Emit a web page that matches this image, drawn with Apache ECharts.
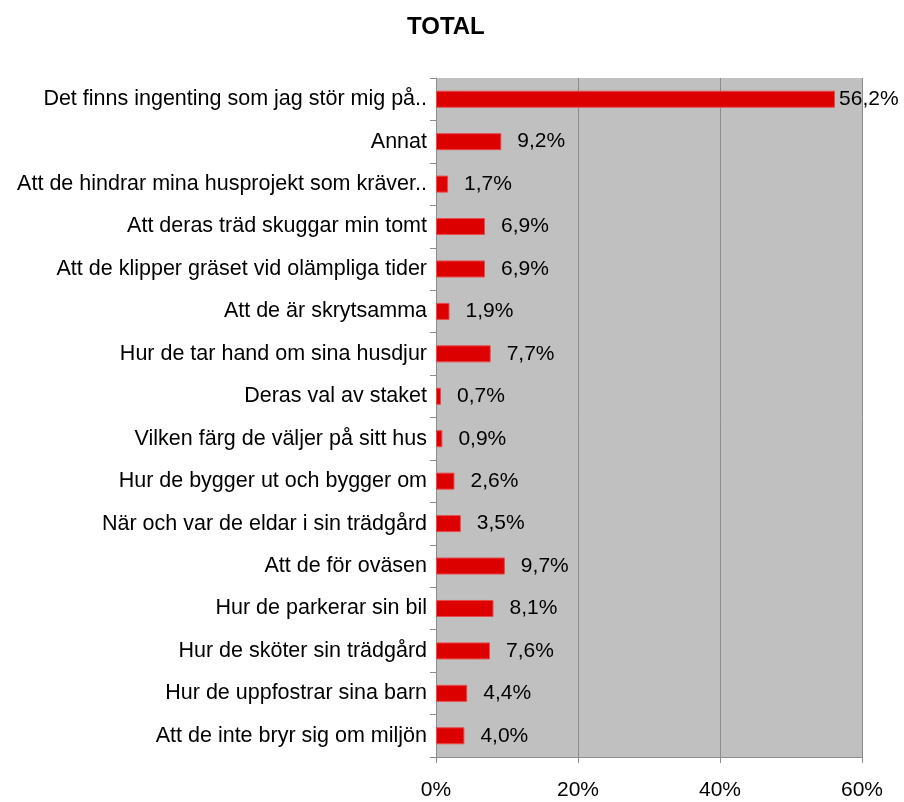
<!doctype html>
<html lang="sv">
<head>
    <meta charset="UTF-8">
    <title>TOTAL</title>
    <script src="https://cdn.jsdelivr.net/npm/echarts@6/dist/echarts.min.js"></script>
    <style>
        html, body { margin: 0; padding: 0; background: #fff; }
    </style>
</head>
<body>
<div id="main" style="width:904px; height:802px;"></div>

<script>
    // kategorier, uppifrån och ned
    var categories = [
        'Det finns ingenting som jag stör mig på..',
        'Annat',
        'Att de hindrar mina husprojekt som kräver..',
        'Att deras träd skuggar min tomt',
        'Att de klipper gräset vid olämpliga tider',
        'Att de är skrytsamma',
        'Hur de tar hand om sina husdjur',
        'Deras val av staket',
        'Vilken färg de väljer på sitt hus',
        'Hur de bygger ut och bygger om',
        'När och var de eldar i sin trädgård',
        'Att de för oväsen',
        'Hur de parkerar sin bil',
        'Hur de sköter sin trädgård',
        'Hur de uppfostrar sina barn',
        'Att de inte bryr sig om miljön'
    ];
    var values = [56.2, 9.2, 1.7, 6.9, 6.9, 1.9, 7.7, 0.7, 0.9, 2.6, 3.5, 9.7, 8.1, 7.6, 4.4, 4.0];

    var font = 'Liberation Sans, Arial, sans-serif';

    // den längsta stapeln får sin etikett tätt intill, som i originalet
    var seriesData = values.map(function (v, i) {
        if (i === 0) {
            return {value: v, label: {distance: 4}};
        }
        return v;
    });

    var myChart = echarts.init(document.getElementById('main'));
    myChart.setOption({
        animation: false,
        title: {
            text: 'TOTAL',
            left: 402,
            top: 10,
            textStyle: {fontFamily: font, fontSize: 24, fontWeight: 'bold', color: '#000'}
        },
        grid: {
            left: 436,
            right: 42,
            top: 78,
            bottom: 45,
            show: true,
            backgroundColor: '#c0c0c0',
            borderWidth: 0
        },
        xAxis: {
            type: 'value',
            min: 0,
            max: 60,
            interval: 20,
            axisLine: {show: true, lineStyle: {color: '#8c8c8c', width: 1}},
            axisTick: {show: true, length: 6, lineStyle: {color: '#8c8c8c'}},
            splitLine: {show: true, lineStyle: {color: '#8c8c8c', width: 1}},
            axisLabel: {
                formatter: '{value}%',
                margin: 23,
                color: '#000',
                fontFamily: font,
                fontSize: 21
            }
        },
        yAxis: {
            type: 'category',
            inverse: true,
            data: categories,
            axisLine: {show: true, lineStyle: {color: '#8c8c8c', width: 1}},
            axisTick: {show: true, length: 6, lineStyle: {color: '#8c8c8c'}},
            axisLabel: {
                margin: 9,
                color: '#000',
                fontFamily: font,
                fontSize: 21.5,
                padding: [3, 0, 0, 0]
            }
        },
        series: [
            {
                name: 'TOTAL',
                type: 'bar',
                data: seriesData,
                barWidth: 17,
                itemStyle: {color: '#dd0000', borderColor: '#e84a4a', borderWidth: 1},
                label: {
                    show: true,
                    position: 'right',
                    distance: 16,
                    color: '#000',
                    fontFamily: font,
                    fontSize: 21,
                    padding: [3, 0, 0, 0],
                    formatter: function (p) {
                        return p.value.toFixed(1).replace('.', ',') + '%';
                    }
                }
            }
        ]
    });
</script>
</body>
</html>
